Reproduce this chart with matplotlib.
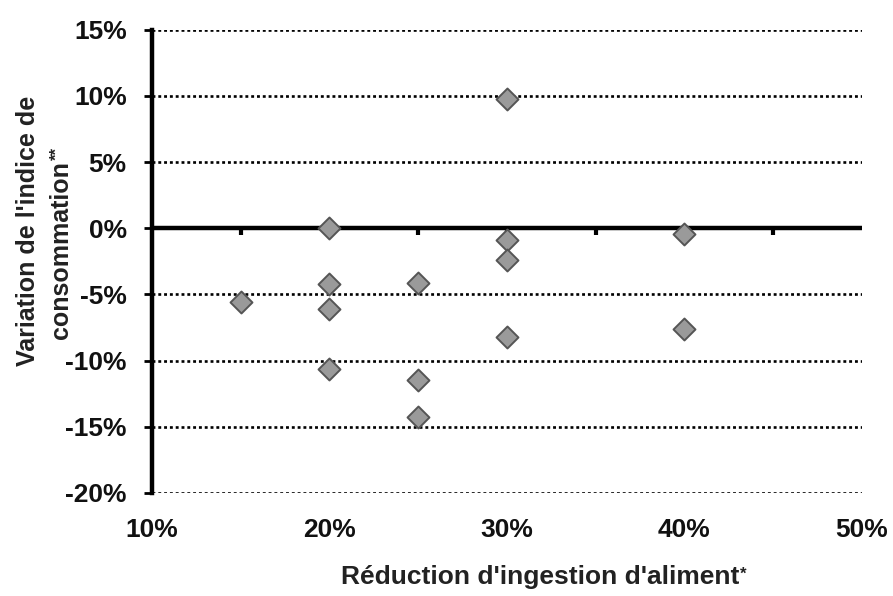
import matplotlib.pyplot as plt
from matplotlib.ticker import FuncFormatter

# reduction d'ingestion (%) and variation de l'IC (%)
reduction = [15, 20, 20, 20, 20, 25, 25, 25, 30, 30, 30, 30, 40, 40]
variation = [-5.6, 0.0, -4.2, -6.1, -10.6, -4.1, -11.5, -14.3, 9.8, -0.9, -2.4, -8.2, -0.4, -7.6]

x_ticks = [10, 20, 30, 40, 50]
y_ticks = [15, 10, 5, 0, -5, -10, -15, -20]

plt.rcParams['font.family'] = ['Liberation Sans', 'DejaVu Sans']

W, H = 893, 596
fig = plt.figure(figsize=(W / 100, H / 100), dpi=100)
ax = fig.add_axes([0.170, 0.173, 0.795, 0.777])

ax.set_xlim(10, 50)
ax.set_ylim(-20, 15)

# dotted gridlines (not at zero, the axis line sits there)
for y in y_ticks:
    if y != 0:
        ax.axhline(y, color="black", lw=1.9, ls=(0, (1.1, 1.1)), zorder=1)
ax.axhline(0, color="black", lw=3.2, zorder=2)
# small ticks under the zero line
for x in range(15, 50, 5):
    ax.plot([x, x], [0, -0.5], color="black", lw=3, zorder=2, solid_capstyle="butt")

ax.scatter(reduction, variation, marker="D", s=125, facecolor="#9a9a9a",
           edgecolor="#555555", lw=1.4, zorder=3)

for s in ["top", "right", "bottom"]:
    ax.spines[s].set_visible(False)
ax.spines["left"].set_linewidth(3.2)
ax.spines["left"].set_color("black")

ax.set_xticks(x_ticks)
ax.set_yticks(y_ticks)
ax.xaxis.set_major_formatter(FuncFormatter(lambda v, p: "%d%%" % v))
ax.yaxis.set_major_formatter(FuncFormatter(lambda v, p: "%d%%" % v))
ax.tick_params(axis="x", length=0, pad=18, labelsize=19)
ax.tick_params(axis="y", length=6, width=2, direction="out", pad=12, labelsize=19)
for lab in ax.get_xticklabels() + ax.get_yticklabels():
    lab.set_fontweight("bold")
    lab.set_color("#111111")

# axis titles, placed like in the source figure
xl = fig.text(540 / W, 1 - 577 / H, "Réduction d'ingestion d'aliment", fontsize=19,
              fontweight="bold", color="#222222", ha="center", va="center")
fig.text(28 / W, 1 - 231 / H, "Variation de l'indice de", fontsize=18, fontweight="bold",
         color="#222222", rotation=90, ha="center", va="center")
yl2 = fig.text(61 / W, 1 - 250 / H, "consommation", fontsize=18, fontweight="bold",
               color="#222222", rotation=90, ha="center", va="center")

# superscript footnote marks
fig.canvas.draw()
bx = xl.get_window_extent()
fig.text((bx.x1 + 1) / W, (bx.y1 - 2) / H, "*", fontsize=12, fontweight="bold",
         color="#222222", ha="left", va="top")
by = yl2.get_window_extent()
fig.text((by.x0 + 1) / W, (by.y1 + 1) / H, "**", fontsize=12, fontweight="bold",
         color="#222222", rotation=90, ha="left", va="bottom")

plt.savefig("out.png", dpi=100)
